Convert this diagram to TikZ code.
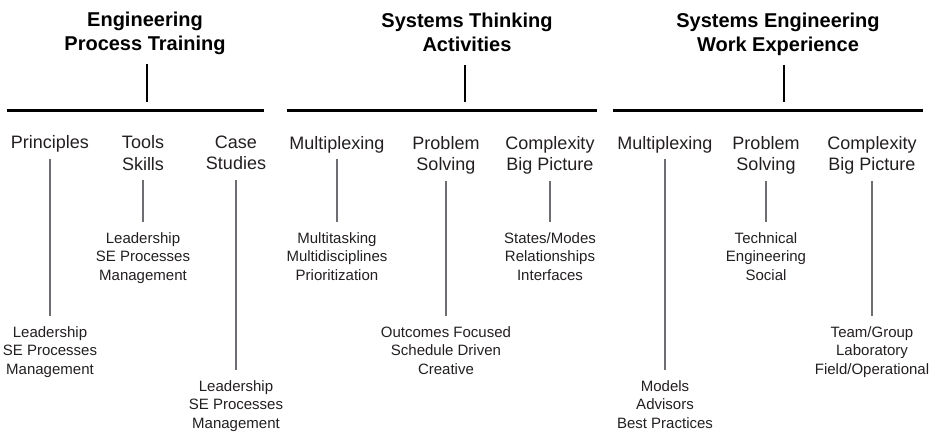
\documentclass[tikz,border=0pt]{standalone}
\usepackage{fontspec}
\setmainfont{Liberation Sans}
\definecolor{txt}{HTML}{231F20}
\definecolor{gline}{HTML}{6D6E71}
\newcommand{\dg}{\vphantom{gp}}
\begin{document}
\begin{tikzpicture}[x=1pt,y=-1pt,
  title/.style={anchor=north,inner sep=0pt,align=center,text=black,
    font=\fontsize{20}{24.3}\selectfont\bfseries},
  sub/.style={anchor=north,inner sep=0pt,align=center,text=txt,
    font=\fontsize{18}{21.7}\selectfont},
  leaf/.style={anchor=north,inner sep=0pt,align=center,text=txt,
    font=\fontsize{15}{18.7}\selectfont},
  bar/.style={fill=black,inner sep=0pt,minimum height=3pt},
  tline/.style={draw=black,line width=2pt},
  sline/.style={draw=gline,line width=1.8pt,shorten <=6pt,shorten >=10pt}]
\useasboundingbox (0,0) rectangle (938,432);
% titles
\node[title] (t1) at (145,12) {Engineering\\Process Training\dg};
\node[title] (t2) at (467,13) {Systems Thinking\\Activities\dg};
\node[title] (t3) at (778,13) {Systems Engineering\\Work Experience\dg};
% bars
\node[bar,minimum width=257pt] (b1) at (135.5,110) {};
\node[bar,minimum width=310pt] (b2) at (442,110) {};
\node[bar,minimum width=310pt] (b3) at (768,110) {};
% title connectors
\draw[tline] ([xshift=2pt,yshift=-8.5pt]t1.south) -- ([xshift=2pt,yshift=6.5pt]t1.south |- b1.north);
\draw[tline] ([xshift=-2pt,yshift=-8.5pt]t2.south) -- ([xshift=-2pt,yshift=6.5pt]t2.south |- b2.north);
\draw[tline] ([xshift=6pt,yshift=-8.5pt]t3.south) -- ([xshift=6pt,yshift=6.5pt]t3.south |- b3.north);
% sub labels
\node[sub] (s11) at (50,135.5) {Principles\dg};
\node[sub] (s12) at (143,135.5) {Tools\\Skills\dg};
\node[sub] (s13) at (236,135.5) {Case\\Studies\dg};
\node[sub] (s21) at (337,136) {Multiplexing\dg};
\node[sub] (s22) at (446,136) {Problem\\Solving\dg};
\node[sub] (s23) at (550,136) {Complexity\\Big Picture\dg};
\node[sub] (s31) at (665,136) {Multiplexing\dg};
\node[sub] (s32) at (766,136) {Problem\\Solving\dg};
\node[sub] (s33) at (872,136) {Complexity\\Big Picture\dg};
% leaves
\node[leaf] (l11) at (50,326) {Leadership\\SE Processes\\Management};
\node[leaf] (l12) at (143,232) {Leadership\\SE Processes\\Management};
\node[leaf] (l13) at (236,380) {Leadership\\SE Processes\\Management};
\node[leaf] (l21) at (337,232) {Multitasking\\Multidisciplines\\Prioritization};
\node[leaf] (l22) at (446,326) {Outcomes Focused\\Schedule Driven\\Creative};
\node[leaf] (l23) at (550,232) {States/Modes\\Relationships\\Interfaces};
\node[leaf] (l31) at (665,380) {Models\\Advisors\\Best Practices};
\node[leaf] (l32) at (766,232) {Technical\\Engineering\\Social};
\node[leaf] (l33) at (872,326) {Team/Group\\Laboratory\\Field/Operational};
% connectors
\foreach \a/\b in {s11/l11,s12/l12,s13/l13,s21/l21,s22/l22,s23/l23,s31/l31,s32/l32,s33/l33}
  \draw[sline] (\a.south) -- (\b.north);
\end{tikzpicture}
\end{document}
